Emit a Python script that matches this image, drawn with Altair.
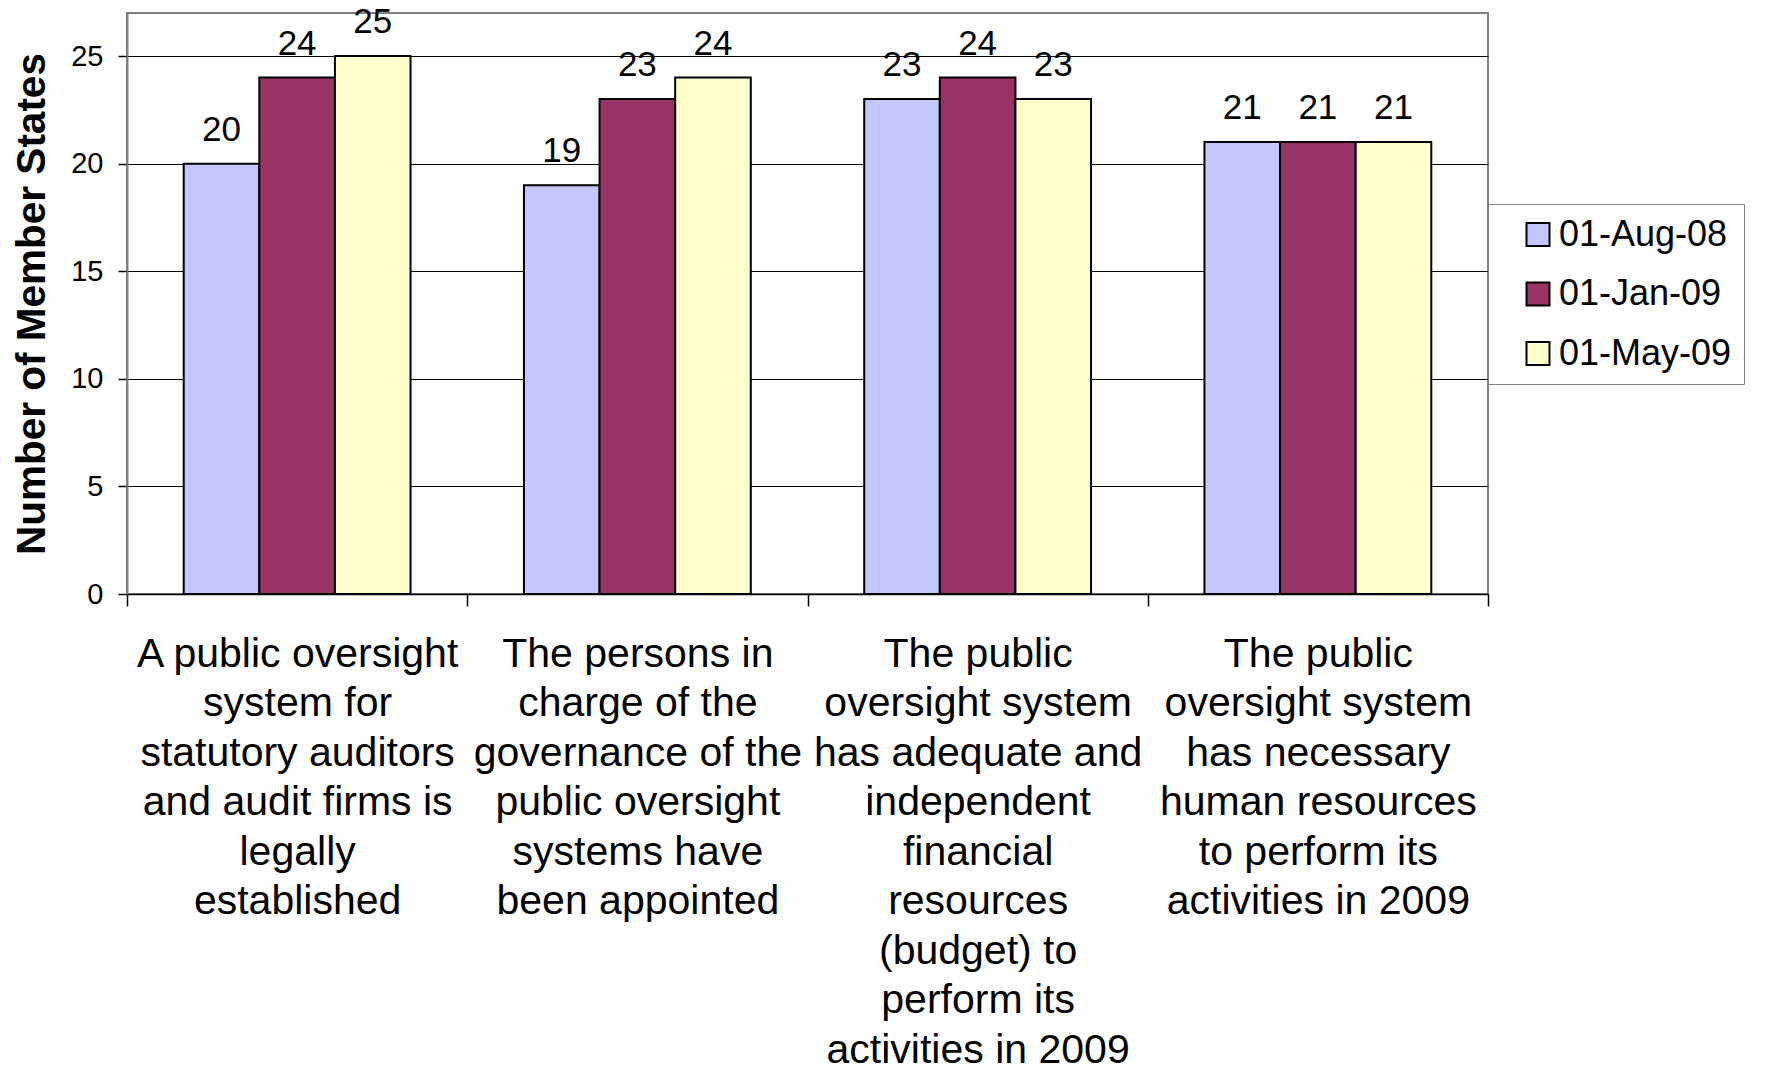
import altair as alt
import pandas as pd

# ---- data ----
category_lines = [
    ["A public oversight", "system for", "statutory auditors", "and audit firms is", "legally", "established"],
    ["The persons in", "charge of the", "governance of the", "public oversight", "systems have", "been appointed"],
    ["The public", "oversight system", "has adequate and", "independent", "financial", "resources",
     "(budget) to", "perform its", "activities in 2009"],
    ["The public", "oversight system", "has necessary", "human resources", "to perform its", "activities in 2009"],
]
series = ["01-Aug-08", "01-Jan-09", "01-May-09"]
aug08 = [20, 19, 23, 21]
jan09 = [24, 23, 24, 21]
may09 = [25, 24, 23, 21]
series_colors = ["#C6C6FF", "#993366", "#FFFFCC"]
y_ticks = [0, 5, 10, 15, 20, 25]
y_title = "Number of Member States"

categories = ["|".join(lines) for lines in category_lines]
rows = []
for s, vals in zip(series, [aug08, jan09, may09]):
    for c, v in zip(categories, vals):
        rows.append({"category": c, "series": s, "value": v})
df = pd.DataFrame(rows)

FONT = "Liberation Sans"

x = alt.X(
    "category:N", sort=categories, title=None,
    scale=alt.Scale(paddingInner=0, paddingOuter=0),
    axis=alt.Axis(
        labelExpr="split(datum.label, '|')", labelAngle=0, labelFontSize=41,
        labelLineHeight=49.5, labelPadding=28, labelColor="black", labelFont=FONT,
        labelLimit=600, tickBand="extent", tickSize=12, tickColor="black",
        tickWidth=1.5, domainColor="black", domainWidth=1.5, grid=False,
    ),
)
xo = alt.XOffset("series:N", sort=series, scale=alt.Scale(paddingInner=0, paddingOuter=0.75))
y = alt.Y(
    "value:Q",
    scale=alt.Scale(domain=[0, 27], nice=False),
    axis=alt.Axis(
        values=y_ticks, title=y_title, titleFont=FONT, titleFontSize=40.5,
        titleFontWeight="bold", titlePadding=17, titleColor="black",
        labelFontSize=29, labelFont=FONT, labelColor="black", labelPadding=15,
        tickSize=9, tickColor="black", tickWidth=1.5, domainColor="#808080",
        domainWidth=2, gridColor="black", gridWidth=1, gridOpacity=1,
    ),
)
color = alt.Color(
    "series:N", sort=series,
    scale=alt.Scale(domain=series, range=series_colors),
    legend=alt.Legend(
        title=None, orient="none", legendX=1361, legendY=191, padding=12.5,
        symbolType="square", symbolSize=529, symbolStrokeColor="black",
        symbolStrokeWidth=2, symbolOpacity=1, labelFontSize=36, labelFont=FONT,
        labelColor="black", labelOffset=3, rowPadding=23.5, symbolOffset=19.5,
        labelLimit=400, strokeColor="#808080", fillColor="white",
        labelExpr="datum.label + '\u2003'",
    ),
)

bars = alt.Chart(df).mark_bar(stroke="black", strokeWidth=2).encode(
    x=x, xOffset=xo, y=y, color=color
)
texts = alt.Chart(df).mark_text(
    dy=-23, baseline="alphabetic", fontSize=35, font=FONT, color="black"
).encode(x=x, xOffset=xo, y=y, text="value:Q")

chart = (
    alt.layer(bars, texts)
    .properties(
        width=1361, height=581,
        autosize=alt.AutoSizeParams(type="none"),
        padding={"left": 119, "top": 5, "right": 269, "bottom": 470},
    )
    .configure_view(stroke="#808080", strokeWidth=2)
)

chart.save("out.html", embed_options={"renderer": "svg", "actions": False})
